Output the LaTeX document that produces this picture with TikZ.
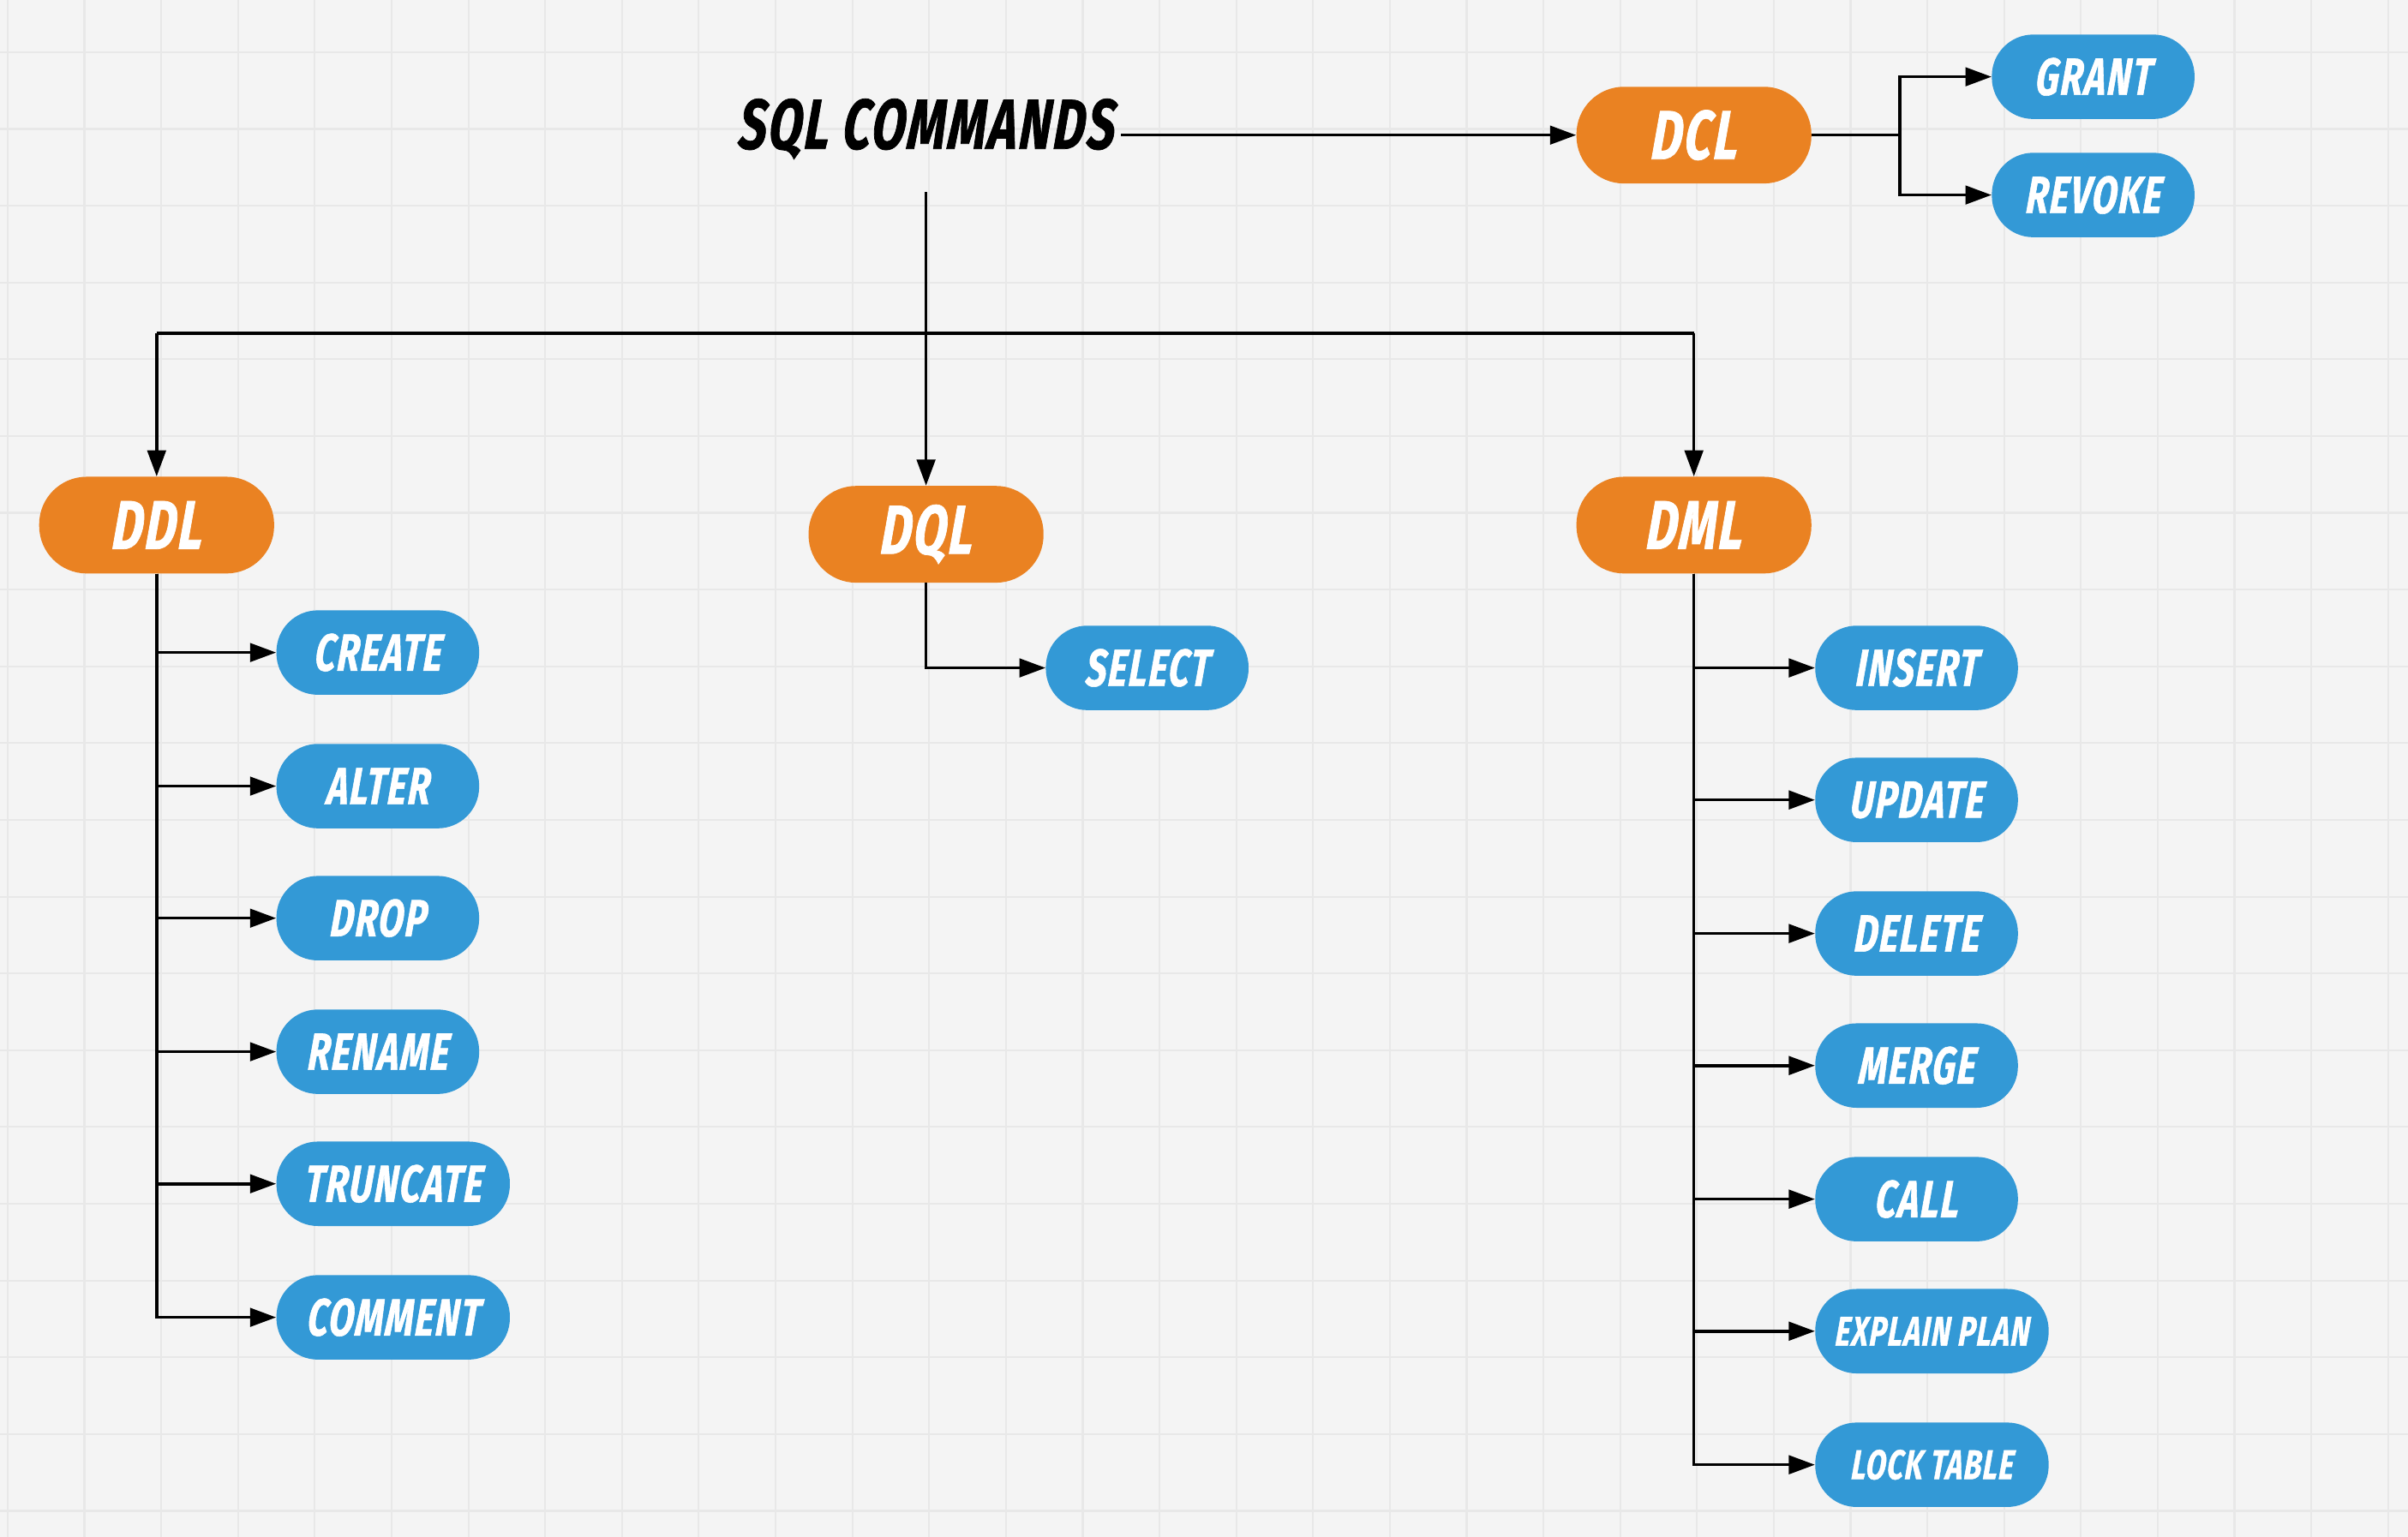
\documentclass[tikz,border=0pt]{standalone}
\usepackage{fontspec}
\newfontfamily\lblfont[FakeStretch=0.7,FakeBold=0.9,FakeSlant=0.08,LetterSpace=3]{Fira Sans}
\usetikzlibrary{arrows.meta}
\definecolor{bgc}{HTML}{F4F4F4}
\definecolor{gridc}{HTML}{E8E8E8}
\definecolor{orangec}{HTML}{EA8222}
\definecolor{bluec}{HTML}{3399D6}
\tikzset{
  pillbase/.style={rectangle, text=white, inner sep=0pt, align=center},
  cat/.style={pillbase, fill=orangec, minimum width=153pt, minimum height=63pt, rounded corners=31pt,
    font=\lblfont\bfseries\itshape\fontsize{45}{45}\selectfont},
  cmd/.style={pillbase, fill=bluec, minimum width=132pt, minimum height=55pt, rounded corners=27pt,
    font=\lblfont\bfseries\itshape\fontsize{34}{34}\selectfont},
  cmdwide/.style={cmd, minimum width=152pt},
  cmdsmall/.style={cmdwide, font=\lblfont\bfseries\itshape\fontsize{27}{27}\selectfont},
  title/.style={text=black, inner sep=4pt, font=\lblfont\bfseries\itshape\fontsize{46}{46}\selectfont},
  conn/.style={draw=black, line width=2pt},
  arr/.style={conn, -{Triangle[length=17pt,width=12pt]}},
}
\begin{document}
\begin{tikzpicture}[x=1pt,y=-1pt]
\useasboundingbox (0,0) rectangle (1568,1001);
\fill[bgc] (0,0) rectangle (1568,1001);
\foreach \gx in {5,55,...,1555} \draw[gridc, line width=1.2pt] (\gx,0) -- (\gx,1001);
\foreach \gy in {34,84,...,984} \draw[gridc, line width=1.2pt] (0,\gy) -- (1568,\gy);

% top
\node[title] (sql) at (603,84) {SQL COMMANDS};
\node[cat] (dcl) at (1103,88) {DCL};
\node[cmd] (grant) at (1363,50) {GRANT};
\node[cmd] (revoke) at (1363,127) {REVOKE};

% categories
\node[cat] (ddl) at (102,342) {DDL};
\node[cat] (dql) at (603,348) {DQL};
\node[cat] (dml) at (1103,342) {DML};

% DDL children
\node[cmd] (create) at (246,425) {CREATE};
\node[cmd] (alter) at (246,512) {ALTER};
\node[cmd] (drop) at (246,598) {DROP};
\node[cmd] (rename) at (246,685) {RENAME};
\node[cmdwide] (truncate) at (256,771) {TRUNCATE};
\node[cmdwide] (comment) at (256,858) {COMMENT};

% DQL child
\node[cmd] (select) at (747,435) {SELECT};

% DML children
\node[cmd] (insert) at (1248,435) {INSERT};
\node[cmd] (update) at (1248,521) {UPDATE};
\node[cmd] (delete) at (1248,608) {DELETE};
\node[cmd] (merge) at (1248,694) {MERGE};
\node[cmd] (call) at (1248,781) {CALL};
\node[cmdsmall] (explain) at (1258,867) {EXPLAIN PLAN};
\node[cmdsmall] (lock) at (1258,954) {LOCK TABLE};

% connectors
\coordinate (sqlr) at (730,88);
\coordinate (sqlb) at (603,125);
\coordinate (dclj) at (1237,88);
\coordinate (busl) at (102,217);
\coordinate (busr) at (1103,217);

\draw[arr] (sqlr) -- (dcl.west);
\draw[conn] (dcl.east) -- (dclj);
\draw[arr] (dclj) |- (grant.west);
\draw[arr] (dclj) |- (revoke.west);

\draw[arr] (sqlb) -- (dql.north);
\draw[conn] (busl) -- (busr);
\draw[arr] (busl) -- (ddl.north);
\draw[arr] (busr) -- (dml.north);

\foreach \c in {create,alter,drop,rename,truncate,comment}
  \draw[arr] (ddl.south) |- (\c.west);
\draw[arr] (dql.south) |- (select.west);
\foreach \c in {insert,update,delete,merge,call,explain,lock}
  \draw[arr] (dml.south) |- (\c.west);
\end{tikzpicture}
\end{document}
